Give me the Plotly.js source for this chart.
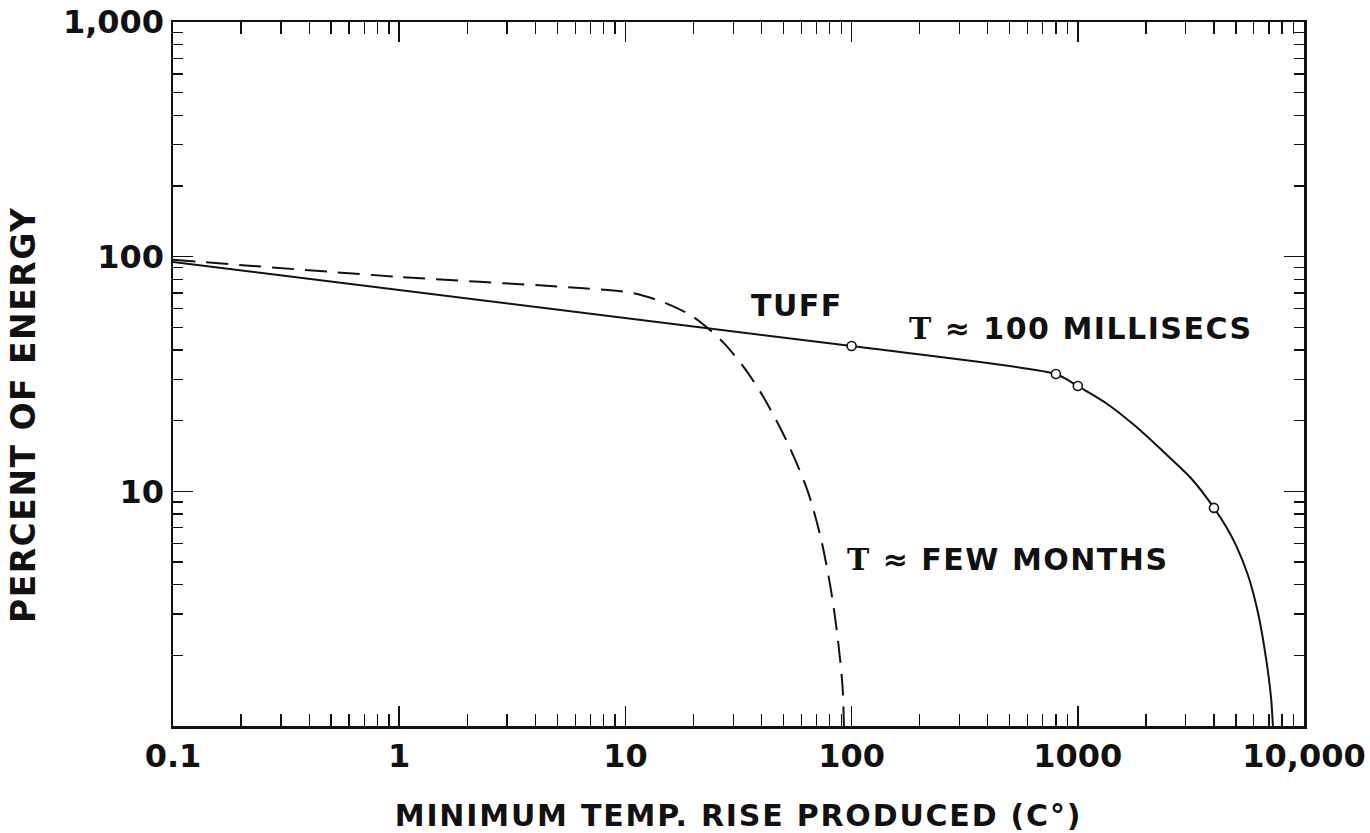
<!DOCTYPE html>
<html>
<head>
<meta charset="utf-8">
<script src="https://cdn.plot.ly/plotly-3.0.1.min.js"></script>
<style>
  html, body { margin: 0; padding: 0; background: #fff; }
  #chart { width: 1370px; height: 833px; }
  .g-xtitle text { letter-spacing: 1.8px; }
  .annotation-text { letter-spacing: 1.5px; }
</style>
</head>
<body>
<div id="chart"></div>
<script>
// Solid curve (T ≈ 100 millisecs)
var solidX = [0.1, 100, 800, 1000, 1330, 1770, 2330, 3160, 4000, 4560, 5000, 5650, 6250, 6790, 7150, 7290];
var solidY = [95, 41.6, 31.6, 28.1, 23.8, 19.2, 15.1, 11.4, 8.5, 6.98, 5.90, 4.40, 3.06, 1.95, 1.32, 1.0];
// Open-circle data points on the solid curve
var pointX = [100, 800, 1000, 4000];
var pointY = [41.6, 31.6, 28.1, 8.5];
// Dashed curve (T ≈ few months)
var dashX = [0.1, 1.0, 6.3, 10.8, 14.7, 19.4, 23.1, 27.2, 33.3, 40.8, 52.1, 63.8, 72.9, 80.7, 86.7, 91.2, 92.5];
var dashY = [97, 82, 73.5, 70, 64, 56.4, 49.7, 42.9, 33.9, 25.2, 16.1, 10.1, 6.4, 3.9, 2.4, 1.47, 1.0];
// Tick labels
var xTickVals = [0.1, 1, 10, 100, 1000, 10000];
var xTickText = ['0.1', '1', '10', '100', '1000', '10,000'];
var yTickVals = [10, 100, 1000];
var yTickText = ['10', '100', '1,000'];
var xMinor = [];
[0.1, 1, 10, 100, 1000].forEach(function (d) { for (var k = 2; k <= 9; k++) xMinor.push(d * k); });
var yMinor = [];
[1, 10, 100].forEach(function (d) { for (var k = 2; k <= 9; k++) yMinor.push(d * k); });

var FONT = 'DejaVu Sans, sans-serif';
var INK = '#111';

var traces = [
  { x: dashX, y: dashY, mode: 'lines', type: 'scatter',
    line: { color: INK, width: 2, dash: '22px,11px', shape: 'spline', smoothing: 0.8 },
    hoverinfo: 'skip', showlegend: false },
  { x: solidX, y: solidY, mode: 'lines', type: 'scatter',
    line: { color: INK, width: 2, shape: 'spline', smoothing: 0.6 },
    hoverinfo: 'skip', showlegend: false },
  { x: pointX, y: pointY, mode: 'markers', type: 'scatter',
    marker: { symbol: 'circle', size: 9, color: '#fff', line: { color: INK, width: 1.6 } },
    hoverinfo: 'skip', showlegend: false }
];

var axisCommon = {
  type: 'log', showgrid: false, zeroline: false,
  showline: true, linecolor: INK, linewidth: 2.5, mirror: 'ticks',
  ticks: 'inside', tickcolor: INK, tickwidth: 1.5,
  tickmode: 'array', tickfont: { family: FONT, size: 32, color: INK, weight: 'bold' }
};

var layout = {
  width: 1370, height: 833,
  margin: { l: 173, r: 66, t: 22, b: 107 },
  paper_bgcolor: '#fff', plot_bgcolor: '#fff',
  font: { family: FONT, color: INK },
  xaxis: Object.assign({}, axisCommon, {
    range: [-1, 4], tickvals: xTickVals, ticktext: xTickText, ticklen: 20,
    minor: { tickmode: 'array', tickvals: xMinor, ticks: 'inside', ticklen: 12, tickcolor: INK, tickwidth: 1.3, showgrid: false },
    title: { text: 'MINIMUM TEMP. RISE PRODUCED (C°)', font: { family: FONT, size: 30, color: INK, weight: 'bold' }, standoff: 32 }
  }),
  yaxis: Object.assign({}, axisCommon, {
    range: [0, 3], tickvals: yTickVals, ticktext: yTickText, ticklen: 20,
    minor: { tickmode: 'array', tickvals: yMinor, ticks: 'inside', ticklen: 10, tickcolor: INK, tickwidth: 1.3, showgrid: false }
  }),
  annotations: [
    { xref: 'paper', yref: 'paper', x: -0.1317, y: 0.4418, text: 'PERCENT OF ENERGY', showarrow: false,
      textangle: -90,
      font: { family: FONT, size: 33, color: INK, weight: 'bold' }, xanchor: 'center', yanchor: 'middle' },
    { xref: 'paper', yref: 'paper', x: 0.5517, y: 0.598, text: 'TUFF', showarrow: false,
      font: { family: FONT, size: 30, color: INK, weight: 'bold' }, xanchor: 'center', yanchor: 'middle' },
    { xref: 'paper', yref: 'paper', x: 0.8028, y: 0.5653,
      text: '<span style="font-family:DejaVu Serif">T</span> ≈ 100 MILLISECS', showarrow: false,
      font: { family: FONT, size: 30, color: INK, weight: 'bold' }, xanchor: 'center', yanchor: 'middle' },
    { xref: 'paper', yref: 'paper', x: 0.7383, y: 0.2372,
      text: '<span style="font-family:DejaVu Serif">T</span> ≈ FEW MONTHS', showarrow: false,
      font: { family: FONT, size: 30, color: INK, weight: 'bold' }, xanchor: 'center', yanchor: 'middle' }
  ]
};

Plotly.newPlot('chart', traces, layout, { staticPlot: true, displayModeBar: false });
</script>
</body>
</html>
